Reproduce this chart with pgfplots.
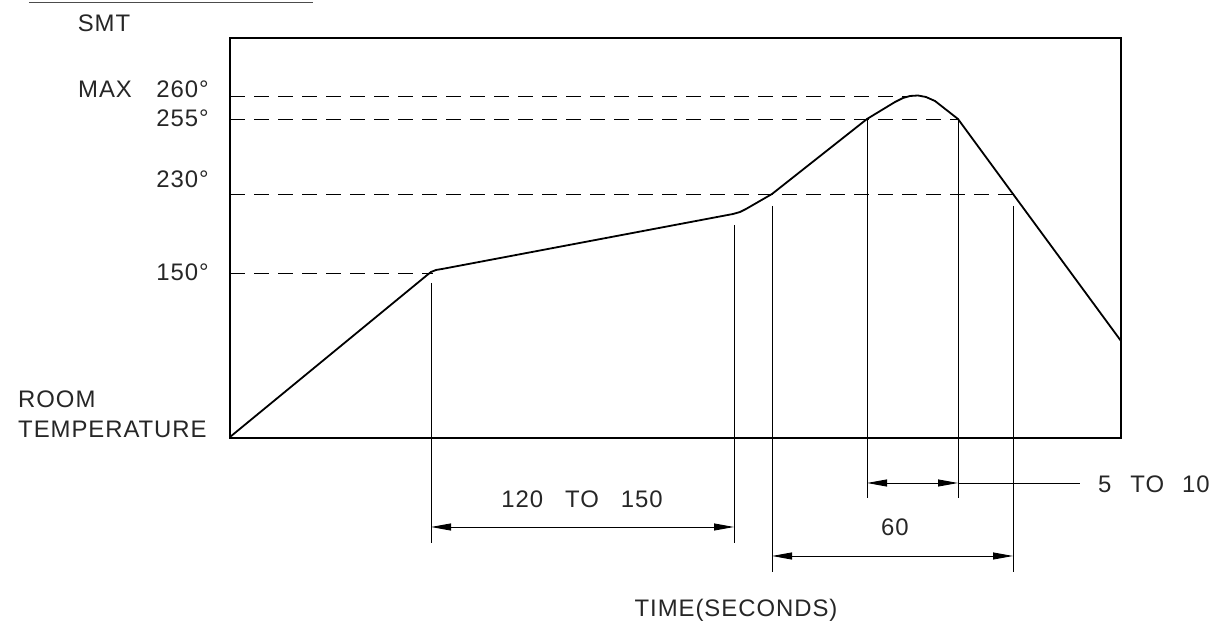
\documentclass[border=0pt]{standalone}
\usepackage{fontspec}
\setmainfont{Liberation Sans}[LetterSpace=4]
\usepackage{pgfplots}
\pgfplotsset{compat=1.18}
\usetikzlibrary{arrows.meta}

\begin{document}
\begin{tikzpicture}[font=\fontsize{24}{28}\selectfont,
    lbl/.style={inner sep=0pt, text=black!85}]
\begin{axis}[
    scale only axis,
    width=891bp, height=400bp,
    xmin=230, xmax=1121,
    ymin=187, ymax=587,
    xtick=\empty, ytick=\empty,
    axis line style={line width=1.8bp},
    clip=false,
    dim/.style={line width=0.9bp, black},
    dash/.style={line width=0.9bp, black, dash pattern=on 15bp off 9bp},
    dimarrow/.style={line width=0.9bp, black,
        {Triangle[length=20bp,width=7bp]}-{Triangle[length=20bp,width=7bp]}},
]
% page frame (pixel units)
\path (axis cs:0,0) rectangle (axis cs:1221,625);

% reference levels
\addplot[dash] coordinates {(230,529) (912,529)};
\addplot[dash] coordinates {(230,506) (958,506)};
\addplot[dash] coordinates {(230,431) (1013,431)};
\addplot[dash] coordinates {(230,352) (433,352)};

% extension lines
\addplot[dim] coordinates {(431,342) (431,82)};
\addplot[dim] coordinates {(734,400) (734,82)};
\addplot[dim] coordinates {(772,419) (772,53)};
\addplot[dim] coordinates {(867,506) (867,127)};
\addplot[dim] coordinates {(958,506) (958,127)};
\addplot[dim] coordinates {(1013,419) (1013,53)};

% dimension arrows
\addplot[dimarrow] coordinates {(431,98) (734,98)};
\addplot[dimarrow] coordinates {(772,69) (1013,69)};
\addplot[dimarrow] coordinates {(867,142) (958,142)};
\addplot[dim] coordinates {(958,142) (1080,142)};

% profile
\addplot[line width=1.8bp, black] coordinates {
(230,188) (426,349) (431,353) (436,355) (442,356)
(733,411) (740,413) (746,416) (772,431)
(867,506) (895,523) (903,527) (910,529) (918,529.5) (926,528) (935,524)
(958,506) (1013,431) (1121,284)
};

% top rule
\addplot[line width=0.8bp, black!70] coordinates {(29,623) (313,623)};

\node[lbl, anchor=base] at (axis cs:104,593) {SMT};
\node[lbl, anchor=base west] at (axis cs:78,527) {MAX};
\node[lbl, anchor=base east] at (axis cs:209,527) {260°};
\node[lbl, anchor=base east] at (axis cs:209,498) {255°};
\node[lbl, anchor=base east] at (axis cs:209,437) {230°};
\node[lbl, anchor=base east] at (axis cs:209,344) {150°};
\node[lbl, anchor=base west] at (axis cs:18,217) {ROOM};
\node[lbl, anchor=base west] at (axis cs:18,187) {TEMPERATURE};
\node[lbl, anchor=base] at (axis cs:582,117) {120\hspace{22bp}TO\hspace{22bp}150};
\node[lbl, anchor=base] at (axis cs:895,89) {60};
\node[lbl, anchor=base west] at (axis cs:1098,132) {5\hspace{19bp}TO\hspace{18bp}10};
\node[lbl, anchor=base] at (axis cs:736,8) {TIME(SECONDS)};
\end{axis}
\end{tikzpicture}
\end{document}
